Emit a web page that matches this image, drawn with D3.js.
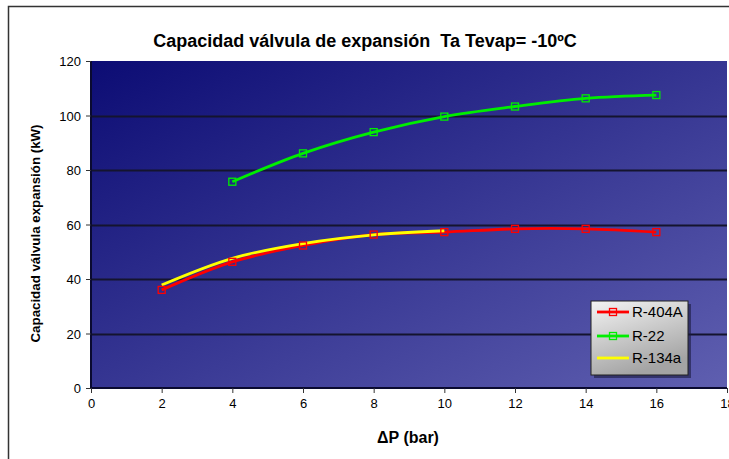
<!DOCTYPE html>
<html>
<head>
<meta charset="utf-8">
<script src="https://cdn.jsdelivr.net/npm/d3@7"></script>
<style>
  html, body { margin: 0; padding: 0; background: #fff; overflow: hidden; }
  svg { display: block; font-family: Arial, "Liberation Sans", sans-serif; }
</style>
</head>
<body>
<svg id="chart" width="729" height="459"></svg>
<script>
// Pressure drop across the valve (bar)
const dpR404A = [2, 4, 6, 8, 10, 12, 14, 16];
const capR404A = [36, 46.3, 52.3, 56.3, 57.2, 58.4, 58.4, 57.2];

const dpR22 = [4, 6, 8, 10, 12, 14, 16];
const capR22 = [75.7, 86.1, 93.9, 99.6, 103.3, 106.3, 107.5];

const dpR134a = [2, 4, 6, 8, 10];
const capR134a = [37.8, 47.6, 53, 56.2, 57.7];

const xTicks = [0, 2, 4, 6, 8, 10, 12, 14, 16, 18];
const yTicks = [0, 20, 40, 60, 80, 100, 120];

const seriesNames = ["R-404A", "R-22", "R-134a"];
const seriesColors = ["#ff0000", "#00ee00", "#ffff00"];
const seriesMarkers = [true, true, false];

const series = [
  { name: seriesNames[0], xs: dpR404A, ys: capR404A },
  { name: seriesNames[1], xs: dpR22, ys: capR22 },
  { name: seriesNames[2], xs: dpR134a, ys: capR134a }
].map((s, i) => ({ ...s, color: seriesColors[i], marker: seriesMarkers[i],
  pts: s.xs.map((x, j) => [x, s.ys[j]]) }));

const svg = d3.select("#chart");
const plot = { left: 91, top: 61, right: 727, bottom: 388 };

const x = d3.scaleLinear().domain([0, 18]).range([plot.left, plot.right]);
const y = d3.scaleLinear().domain([0, 120]).range([plot.bottom, plot.top]);

const defs = svg.append("defs");
const bg = defs.append("linearGradient").attr("id", "plotBg")
  .attr("x1", "0").attr("y1", "0").attr("x2", "1").attr("y2", "1");
bg.append("stop").attr("offset", "0").attr("stop-color", "#0c0c74");
bg.append("stop").attr("offset", "1").attr("stop-color", "#5f5fb0");

const lg = defs.append("linearGradient").attr("id", "legendBg")
  .attr("x1", "0").attr("y1", "0").attr("x2", "0.4").attr("y2", "1");
lg.append("stop").attr("offset", "0").attr("stop-color", "#f4f4f4");
lg.append("stop").attr("offset", "1").attr("stop-color", "#a4a4a4");

// chart frame
svg.append("path").attr("d", "M8.5,459 V6.5 H729")
  .attr("fill", "none").attr("stroke", "#333").attr("stroke-width", 1.5);

// title
svg.append("text")
  .attr("x", 365).attr("y", 47)
  .attr("text-anchor", "middle")
  .attr("font-size", 18).attr("font-weight", "bold")
  .style("white-space", "pre")
  .text("Capacidad válvula de expansión  Ta Tevap= -10ºC");

// plot background
svg.append("rect")
  .attr("x", plot.left).attr("y", plot.top)
  .attr("width", plot.right - plot.left).attr("height", plot.bottom - plot.top)
  .attr("fill", "url(#plotBg)");

// horizontal gridlines
svg.append("g").selectAll("line").data(yTicks.filter(t => t > 0 && t < 120)).join("line")
  .attr("x1", plot.left).attr("x2", plot.right)
  .attr("y1", d => Math.round(y(d)) + 0.5).attr("y2", d => Math.round(y(d)) + 0.5)
  .attr("stroke", "#14142e").attr("stroke-width", 2);

// plot border (left and bottom darker)
svg.append("path")
  .attr("d", `M${plot.left},${plot.top} V${plot.bottom} H${plot.right}`)
  .attr("fill", "none").attr("stroke", "#0a0a30").attr("stroke-width", 2);

// axes
const xAxis = svg.append("g")
  .attr("transform", `translate(0,${plot.bottom})`)
  .call(d3.axisBottom(x).tickValues(xTicks).tickSize(5).tickSizeOuter(0).tickPadding(6));
const yAxis = svg.append("g")
  .attr("transform", `translate(${plot.left},0)`)
  .call(d3.axisLeft(y).tickValues(yTicks).tickSize(5).tickSizeOuter(0).tickPadding(5));
[xAxis, yAxis].forEach(a => {
  a.select(".domain").remove();
  a.selectAll(".tick line").attr("stroke", "#333");
  a.selectAll(".tick text").attr("font-size", 13).attr("fill", "#000")
    .attr("font-family", "Arial, 'Liberation Sans', sans-serif");
});
yAxis.selectAll(".tick text").attr("dy", "0.35em");

// axis titles
svg.append("text")
  .attr("x", 408).attr("y", 443)
  .attr("text-anchor", "middle")
  .attr("font-size", 16).attr("font-weight", "bold")
  .text("ΔP (bar)");
svg.append("text")
  .attr("transform", `translate(40,${(plot.top + plot.bottom) / 2 + 9}) rotate(-90)`)
  .attr("text-anchor", "middle")
  .attr("font-size", 13.3).attr("font-weight", "bold")
  .text("Capacidad válvula expansión (kW)");

// series lines, then markers on top
const line = d3.line().x(d => x(d[0])).y(d => y(d[1])).curve(d3.curveCatmullRom.alpha(0.5));
series.forEach(s => {
  svg.append("path").datum(s.pts)
    .attr("d", line)
    .attr("fill", "none").attr("stroke", s.color).attr("stroke-width", 2.8)
    .attr("stroke-linejoin", "round");
});
series.forEach(s => {
  if (!s.marker) return;
  svg.append("g").selectAll("rect").data(s.pts).join("rect")
    .attr("x", d => x(d[0]) - 3.5).attr("y", d => y(d[1]) - 3.5)
    .attr("width", 7).attr("height", 7)
    .attr("fill", "none").attr("stroke", s.color).attr("stroke-width", 1.3);
});

// legend
const leg = { x: 591, y: 301, w: 97, h: 74 };
svg.append("rect")
  .attr("x", leg.x + 3).attr("y", leg.y + 3).attr("width", leg.w).attr("height", leg.h)
  .attr("fill", "#1b1b40").attr("opacity", 0.6);
svg.append("rect")
  .attr("x", leg.x).attr("y", leg.y).attr("width", leg.w).attr("height", leg.h)
  .attr("fill", "url(#legendBg)").attr("stroke", "#222").attr("stroke-width", 1);
const rowY = [312, 336, 358];
series.forEach((s, i) => {
  const g = svg.append("g");
  g.append("line")
    .attr("x1", leg.x + 6).attr("x2", leg.x + 38)
    .attr("y1", rowY[i]).attr("y2", rowY[i])
    .attr("stroke", s.color).attr("stroke-width", 2.8);
  if (s.marker) {
    g.append("rect")
      .attr("x", leg.x + 22 - 3.5).attr("y", rowY[i] - 3.5)
      .attr("width", 7).attr("height", 7)
      .attr("fill", "none").attr("stroke", s.color).attr("stroke-width", 1.3);
  }
  g.append("text")
    .attr("x", leg.x + 41).attr("y", rowY[i]).attr("dy", "0.35em")
    .attr("font-size", 15).attr("fill", "#000")
    .text(s.name);
});
</script>
</body>
</html>
